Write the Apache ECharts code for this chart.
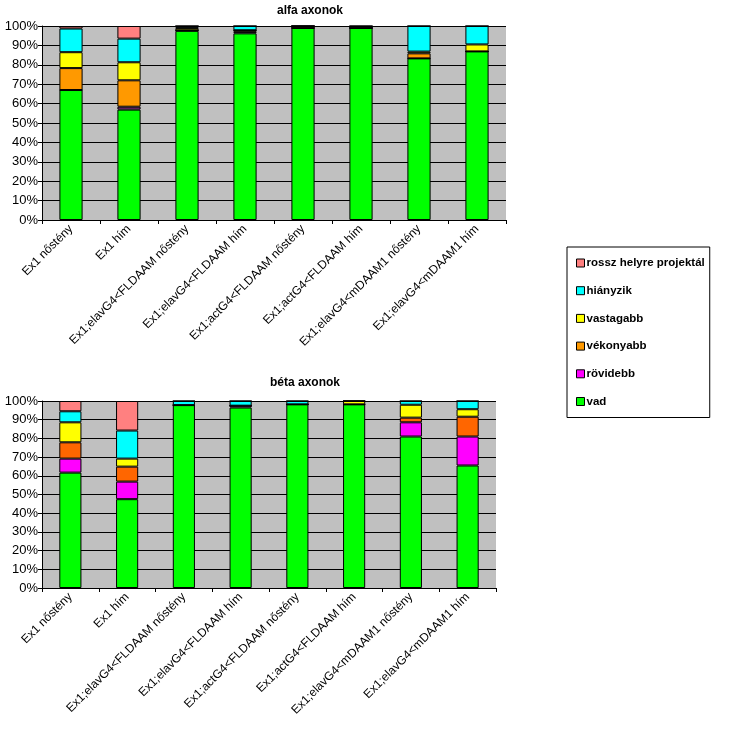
<!DOCTYPE html>
<html><head><meta charset="utf-8">
<script src="https://cdn.jsdelivr.net/npm/echarts@6/dist/echarts.min.js"></script>
<style>html,body{margin:0;padding:0;background:#fff}#c{width:739px;height:738px}</style>
</head><body><div id="c"></div>
<script>
const categories = ["Ex1 nőstény","Ex1 hím","Ex1;elavG4<FLDAAM nőstény","Ex1;elavG4<FLDAAM hím","Ex1;actG4<FLDAAM nőstény","Ex1;actG4<FLDAAM hím","Ex1;elavG4<mDAAM1 nőstény","Ex1;elavG4<mDAAM1 hím"];
const seriesNames = ["vad","rövidebb","vékonyabb","vastagabb","hiányzik","rossz helyre projektál"];
const yTicks = [0,10,20,30,40,50,60,70,80,90,100];
// alfa axonok
const alfaVad        = [67.0, 56.9, 97.5, 96.2, 99.0, 99.0, 83.3, 86.9];
const alfaRovidebb   = [0,    1.5,  0.3,  0.8,  0,    0,    0,    0];
const alfaVekonyabb  = [11.3, 13.6, 0,    0.8,  0,    0,    2.6,  0];
const alfaVastagabb  = [8.2,  9.3,  1.2,  0,    1.0,  0,    0.9,  3.6];
const alfaHianyzik   = [12.2, 12.2, 1.0,  2.2,  0,    1.0,  13.2, 9.5];
const alfaRossz      = [1.3,  6.5,  0,    0,    0,    0,    0,    0];
// béta axonok
const betaVad        = [61.7, 47.5, 97.8, 96.5, 98.2, 98.2, 81.0, 65.5];
const betaRovidebb   = [7.5,  9.4,  0,    1.0,  0,    0,    7.6,  15.5];
const betaVekonyabb  = [8.7,  8.0,  0,    0,    0,    0,    2.5,  10.6];
const betaVastagabb  = [10.7, 4.3,  0,    0,    0,    1.8,  6.9,  4.0];
const betaHianyzik   = [5.9,  15.0, 2.2,  2.5,  1.8,  0,    2.0,  4.4];
const betaRossz      = [5.5,  15.8, 0,    0,    0,    0,    0,    0];

const alfaData = [alfaVad, alfaRovidebb, alfaVekonyabb, alfaVastagabb, alfaHianyzik, alfaRossz];
const betaData = [betaVad, betaRovidebb, betaVekonyabb, betaVastagabb, betaHianyzik, betaRossz];
const alfaColors = ['#00FF00','#993399','#FF9900','#FFFF00','#00FFFF','#FF8080'];
const betaColors = ['#00FF00','#FF00FF','#FF6600','#FFFF00','#00FFFF','#FF8080'];
const legendColors = ['#00FF00','#FF00FF','#FF9900','#FFFF00','#00FFFF','#FF8080'];

const FONT = 'Arial, "Liberation Sans", sans-serif';
const chart = echarts.init(document.getElementById('c'));

function xAxis(gi){
  return {type:'category', gridIndex:gi, data:categories, boundaryGap:true,
    axisLine:{lineStyle:{color:'#000',width:1}},
    axisTick:{show:true, alignWithLabel:false, length:4, lineStyle:{color:'#000'}},
    axisLabel:{rotate:45, interval:0, color:'#000', fontFamily:FONT, fontSize:12, margin:7}};
}
function yAxis(gi){
  return {type:'value', gridIndex:gi, min:0, max:100, interval:10,
    axisLine:{show:true, lineStyle:{color:'#000'}},
    axisTick:{show:true, length:4, lineStyle:{color:'#000'}},
    splitLine:{show:true, lineStyle:{color:'#000', width:1}},
    axisLabel:{formatter: v => yTicks.includes(v) ? v + '%' : '', color:'#000', fontFamily:FONT, fontSize:13, margin:4}};
}
const series = [];
seriesNames.forEach((n,i)=>{
  series.push({name:n, type:'bar', stack:'a', xAxisIndex:0, yAxisIndex:0, data:alfaData[i], barWidth:'40%',
    itemStyle:{color:alfaColors[i], borderColor:'#000', borderWidth:1}});
});
seriesNames.forEach((n,i)=>{
  series.push({name:n, type:'bar', stack:'b', xAxisIndex:1, yAxisIndex:1, data:betaData[i], barWidth:'39%',
    itemStyle:{color:betaColors[i], borderColor:'#000', borderWidth:1}});
});

chart.setOption({
  animation:false,
  backgroundColor:'#fff',
  title:[
    {text:'alfa axonok', left:305, top:0, textAlign:'center', textStyle:{fontFamily:FONT, fontSize:12, fontWeight:'bold', color:'#000'}},
    {text:'béta axonok', left:300, top:372, textAlign:'center', textStyle:{fontFamily:FONT, fontSize:12, fontWeight:'bold', color:'#000'}}
  ],
  legend:{
    orient:'vertical', left:567, top:247, padding:[10,5,10,9], itemGap:15.7,
    itemWidth:8, itemHeight:8, icon:'rect',
    borderColor:'#000', borderWidth:1, backgroundColor:'#fff',
    textStyle:{fontFamily:FONT, fontSize:11.5, fontWeight:'bold', color:'#000', padding:[0,0,0,-3]},
    data: seriesNames.slice().reverse().map(n => ({name:n, itemStyle:{color:legendColors[seriesNames.indexOf(n)], borderColor:'#000', borderWidth:1}}))
  },
  grid:[
    {left:42, top:26, width:464, height:194, show:true, backgroundColor:'#C0C0C0', borderWidth:0},
    {left:42, top:401, width:454, height:187, show:true, backgroundColor:'#C0C0C0', borderWidth:0}
  ],
  xAxis:[xAxis(0), xAxis(1)],
  yAxis:[yAxis(0), yAxis(1)],
  series: series
});
</script></body></html>
